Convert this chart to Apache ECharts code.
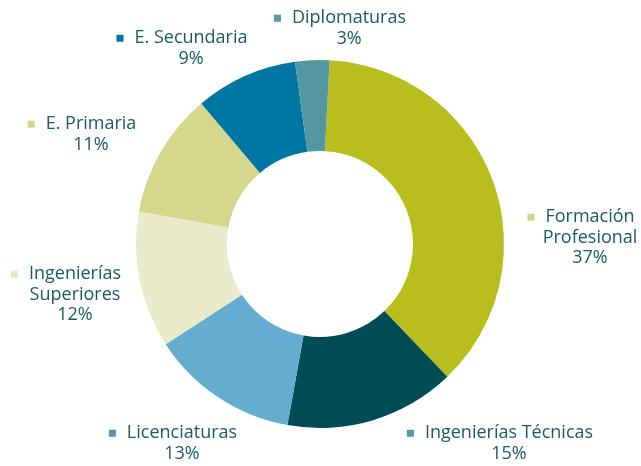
<!DOCTYPE html>
<html>
<head>
<meta charset="utf-8">
<script src="https://cdn.jsdelivr.net/npm/echarts@6/dist/echarts.min.js"></script>
<style>
  html, body { margin: 0; padding: 0; background: #ffffff; }
  #chart { width: 641px; height: 466px; }
</style>
</head>
<body>
<div id="chart"></div>
<script>
// Distribution by type of studies (percent)
var categories = [
  'Formación\nProfesional',
  'Ingenierías Técnicas',
  'Licenciaturas',
  'Ingenierías\nSuperiores',
  'E. Primaria',
  'E. Secundaria',
  'Diplomaturas'
];
var shares = [37, 15, 13, 12, 11, 9, 3];

// Slice fills and the small squares shown beside each label
var sliceColors = ['#b8be1e', '#024c55', '#64add0', '#e9ebcb', '#d5d88c', '#0077a3', '#5497a0'];
var markerColors = ['#d2d68a', '#5497a0', '#5497a0', '#e6e9c6', '#d5d88c', '#0077a3', '#5497a0'];

// Label anchors: centre x of the text block, top y of the first line
var labelAnchors = [
  [590, 207],
  [509, 423],
  [182, 423],
  [75, 264],
  [91, 114],
  [191, 28],
  [349, 8]
];

var textColor = '#1a5a63';
var FONT = '"Open Sans", sans-serif';

var rich = {
  n: { fontFamily: FONT, fontSize: 18, fontWeight: 500, lineHeight: 20.5, color: textColor },
  g: { width: 11, height: 7 },
  h: { width: 7, height: 7 }
};
markerColors.forEach(function (c, i) {
  rich['m' + i] = { width: 7, height: 7, backgroundColor: c };
});

var data = categories.map(function (name, i) {
  return { name: name, value: shares[i], itemStyle: { color: sliceColors[i] } };
});

var chart = echarts.init(document.getElementById('chart'), null, { renderer: 'canvas' });
chart.setOption({
  backgroundColor: '#ffffff',
  animation: false,
  series: [{
    type: 'pie',
    center: [320, 244],
    radius: [93, 184],
    startAngle: 87,
    clockwise: true,
    avoidLabelOverlap: false,
    itemStyle: { borderWidth: 0 },
    emphasis: { disabled: true },
    label: {
      show: true,
      position: 'outside',
      align: 'center',
      formatter: function (p) {
        var lines = p.name.split('\n');
        var out = '{m' + p.dataIndex + '|}{g|}{n|' + lines[0] + '}{g|}{h|}';
        for (var k = 1; k < lines.length; k++) out += '\n{n|' + lines[k] + '}';
        out += '\n{n|' + p.value + '%}';
        return out;
      },
      rich: rich
    },
    labelLine: { show: false },
    labelLayout: function (params) {
      var a = labelAnchors[params.dataIndex];
      return { x: a[0], y: a[1], align: 'center', verticalAlign: 'top' };
    },
    data: data
  }]
});
</script>
</body>
</html>
